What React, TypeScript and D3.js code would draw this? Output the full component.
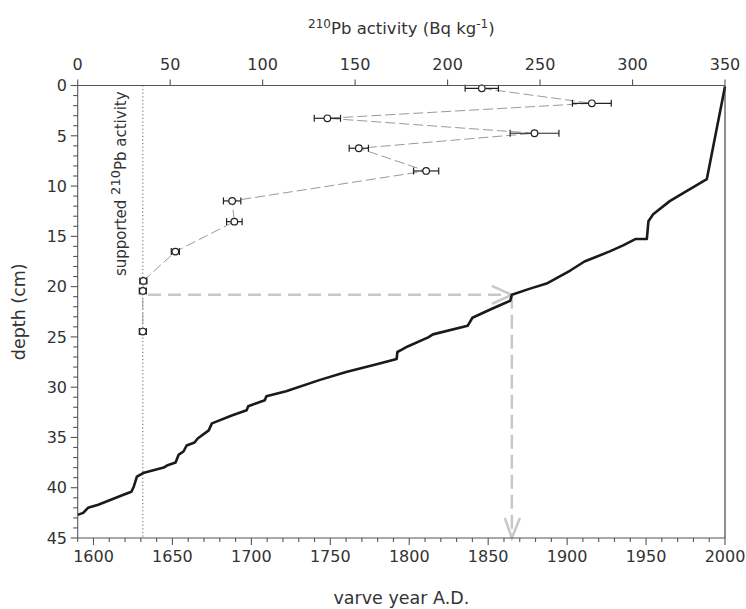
import React from "react";
import * as d3 from "d3";

// 210Pb profile
const pbDepth = [0.28, 1.77, 3.26, 4.75, 6.24, 8.5, 11.48, 13.54, 16.52, 19.43, 20.43, 24.47];
const pbActivity = [218.5, 278, 135, 247, 152, 188.4, 83.5, 84.7, 52.8, 35.5, 35.2, 35.2];
const pbError = [9, 10.5, 7.1, 13.2, 5.2, 6.8, 4.7, 4.2, 2.2, 1.9, 1.9, 1.9];

// varve chronology (year A.D. vs depth)
const varveYear = [
  1590, 1593.5, 1596.5, 1603, 1619, 1624, 1625.5, 1627.5, 1632, 1644.5, 1646.5, 1652, 1654, 1657,
  1659, 1664, 1666, 1673, 1675, 1688, 1697, 1698, 1708.5, 1709.5, 1722, 1743, 1760, 1780, 1792,
  1792.5, 1795, 1799, 1812, 1815, 1837, 1840, 1851, 1856, 1864, 1865, 1876.5, 1887, 1902, 1911,
  1927, 1935.5, 1943.5, 1950.5, 1951.5, 1954.5, 1956.5, 1965, 1973.5, 1981, 1988.5, 2000,
];
const varveDepth = [
  42.7, 42.5, 42.0, 41.7, 40.7, 40.4, 39.9, 38.9, 38.5, 38.0, 37.8, 37.5, 36.7, 36.4,
  35.8, 35.5, 35.1, 34.3, 33.6, 32.8, 32.3, 31.9, 31.3, 30.9, 30.4, 29.3, 28.5, 27.7, 27.2,
  26.5, 26.3, 25.95, 25.05, 24.75, 23.9, 23.1, 22.3, 21.95, 21.4, 20.8, 20.2, 19.7, 18.4, 17.5,
  16.5, 15.9, 15.26, 15.26, 13.5, 12.8, 12.55, 11.5, 10.7, 10.0, 9.3, 0.1,
];

const supportedActivity = 35.2;
const markerDepth = 20.82;
const markerYear = 1865;
const markerStartActivity = 38;

const activityTicks = [0, 50, 100, 150, 200, 250, 300, 350];
const yearTicks = [1600, 1650, 1700, 1750, 1800, 1850, 1900, 1950, 2000];
const depthTicks = [0, 5, 10, 15, 20, 25, 30, 35, 40, 45];

const W = 746;
const H = 609;
const L = 77.7;
const R = 725;
const T = 85.5;
const B = 538;

const FONT = "'DejaVu Sans', Verdana, sans-serif";
const TXT = "#333";
const AX = "#555";

export default function App() {
  const xAct = d3.scaleLinear().domain([0, 350]).range([L, R]);
  const xYear = d3.scaleLinear().domain([1590, 2000]).range([L, R]);
  const y = d3.scaleLinear().domain([0, 45]).range([T, B]);

  const minorYears = d3.range(1590, 2001, 10);
  const minorDepth = d3.range(0, 46, 1);

  const varveLine = d3
    .line<number>()
    .x((_, i) => xYear(varveYear[i]))
    .y((d) => y(d))(varveDepth) as string;

  const pbLine = d3
    .line<number>()
    .x((_, i) => xAct(pbActivity[i]))
    .y((d) => y(d))(pbDepth) as string;

  const mx = xYear(markerYear);
  const my = y(markerDepth);
  const arrowColor = "#c8c8c8";

  return (
    <svg
      width={W}
      height={H}
      style={{ position: "absolute", left: 0, top: 0, display: "block", background: "#fff" }}
      fontFamily={FONT}
    >
      <rect x={0} y={0} width={W} height={H} fill="#fff" />

      {/* supported line */}
      <line
        x1={xAct(supportedActivity)}
        x2={xAct(supportedActivity)}
        y1={T}
        y2={B}
        stroke="#444"
        strokeWidth={1}
        strokeDasharray="1,2.6"
      />
      <text transform={`translate(126,276) rotate(-90)`} fontSize={15} fill={TXT}>
        supported <tspan dy={-6} fontSize={13}>210</tspan>
        <tspan dy={6}>Pb activity</tspan>
      </text>

      {/* marker arrows */}
      <g stroke={arrowColor} strokeWidth={2.5} fill="none">
        <line x1={xAct(markerStartActivity)} x2={mx} y1={my} y2={my} strokeDasharray="13,7" />
        <polyline points={`${mx - 20},${my - 9} ${mx},${my} ${mx - 20},${my + 9}`} />
        <line x1={mx} x2={mx} y1={my} y2={B} strokeDasharray="14,6" />
        <polyline points={`${mx - 7},${B - 20} ${mx},${B} ${mx + 8},${B - 20}`} />
      </g>

      {/* Pb connecting line */}
      <path d={pbLine} fill="none" stroke="#9a9a9a" strokeWidth={1} strokeDasharray="10,4" />

      {/* error bars and points */}
      <g stroke="#222" strokeWidth={1.2} fill="none">
        {pbDepth.map((d, i) => {
          const cy = y(d);
          const x1 = xAct(pbActivity[i] - pbError[i]);
          const x2 = xAct(pbActivity[i] + pbError[i]);
          return (
            <g key={i}>
              <line x1={x1} x2={x2} y1={cy} y2={cy} />
              <line x1={x1} x2={x1} y1={cy - 3.5} y2={cy + 3.5} />
              <line x1={x2} x2={x2} y1={cy - 3.5} y2={cy + 3.5} />
              <circle cx={xAct(pbActivity[i])} cy={cy} r={3.3} fill="#fff" />
            </g>
          );
        })}
      </g>

      {/* varve curve */}
      <path d={varveLine} fill="none" stroke="#1a1a1a" strokeWidth={2.6} strokeLinejoin="round" />

      {/* axes frame */}
      <g stroke={AX} strokeWidth={1.1}>
        <line x1={L} x2={R} y1={T} y2={T} />
        <line x1={L} x2={R} y1={B} y2={B} />
        <line x1={L} x2={L} y1={T} y2={B} />
        <line x1={R} x2={R} y1={T} y2={B} stroke="#333" />
        {activityTicks.map((t) => (
          <line key={"ta" + t} x1={xAct(t)} x2={xAct(t)} y1={T} y2={T - 6} />
        ))}
        {minorYears.map((t) => (
          <line
            key={"ty" + t}
            x1={xYear(t)}
            x2={xYear(t)}
            y1={B}
            y2={B + (t % 50 === 0 ? 7 : 4)}
          />
        ))}
        {minorDepth.map((t) => (
          <line key={"td" + t} x1={L} x2={L - (t % 5 === 0 ? 7 : 4.5)} y1={y(t)} y2={y(t)} />
        ))}
      </g>

      {/* tick labels */}
      <g fontSize={16} fill={TXT}>
        {activityTicks.map((t) => (
          <text key={"la" + t} x={xAct(t)} y={70} textAnchor="middle">
            {t}
          </text>
        ))}
        {yearTicks.map((t) => (
          <text key={"ly" + t} x={xYear(t)} y={562} textAnchor="middle">
            {t}
          </text>
        ))}
        {depthTicks.map((t) => (
          <text key={"ld" + t} x={67} y={y(t)} dy="0.36em" textAnchor="end">
            {t}
          </text>
        ))}
      </g>

      {/* axis titles */}
      <text x={(L + R) / 2} y={34} textAnchor="middle" fontSize={16.5} fill={TXT}>
        <tspan dy={-6} fontSize={12}>210</tspan>
        <tspan dy={6}>Pb activity (Bq kg</tspan>
        <tspan dy={-6} fontSize={12}>-1</tspan>
        <tspan dy={6}>)</tspan>
      </text>
      <text x={(L + R) / 2} y={604} textAnchor="middle" fontSize={17.5} fill={TXT}>
        varve year A.D.
      </text>
      <text
        transform={`translate(25,${(T + B) / 2}) rotate(-90)`}
        textAnchor="middle"
        fontSize={17.5}
        fill={TXT}
      >
        depth (cm)
      </text>
    </svg>
  );
}
